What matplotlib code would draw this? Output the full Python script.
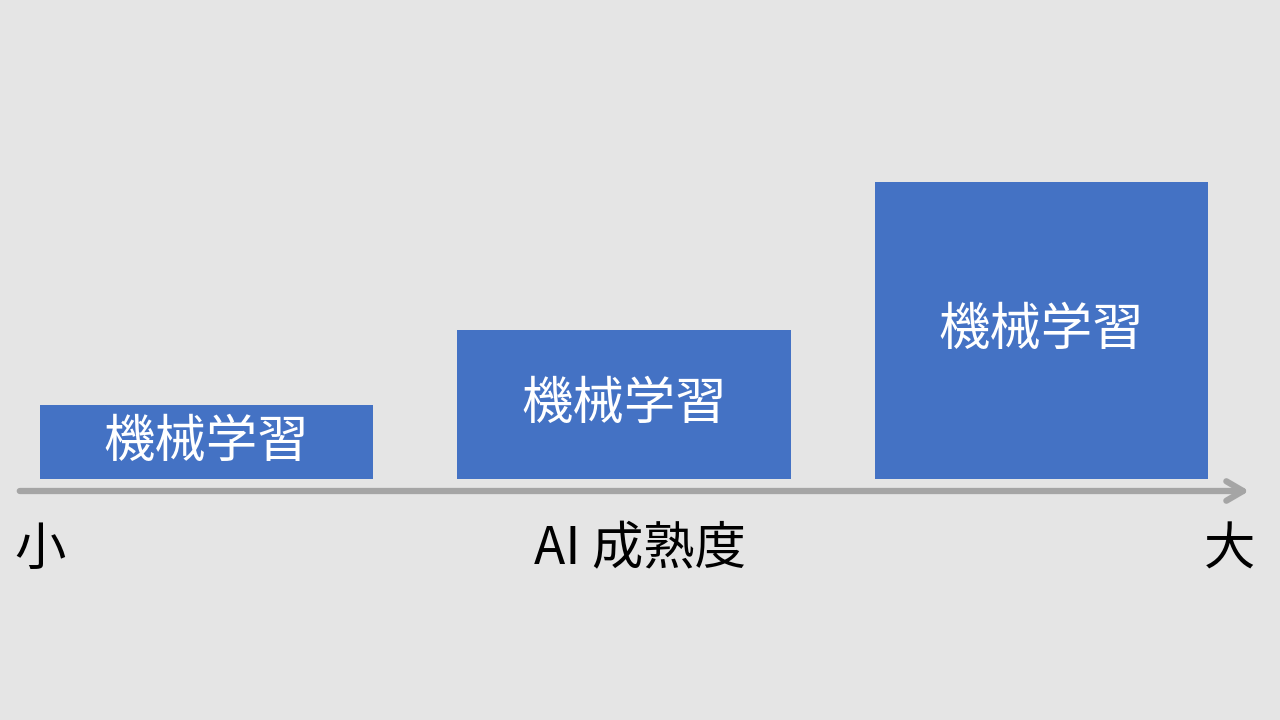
import matplotlib.pyplot as plt
from matplotlib.patches import FancyArrowPatch

plt.rcParams['font.family'] = ['Noto Sans CJK JP', 'DejaVu Sans']

# bars in pixel-like units (baseline at 479)
labels = ['機械学習', '機械学習', '機械学習']
lefts = [40, 457, 875]
widths = [333, 334, 333]
heights = [74, 149, 297]
baseline = 479

fig = plt.figure(figsize=(12.8, 7.2), dpi=100)
fig.patch.set_facecolor('#e5e5e5')
ax = fig.add_axes([0, 0, 1, 1])
ax.set_xlim(0, 1280)
ax.set_ylim(720, 0)
ax.axis('off')

ax.bar(lefts, [-h for h in heights], width=widths, bottom=baseline,
       align='edge', color='#4472c4')
for l, w, h, t in zip(lefts, widths, heights, labels):
    ax.text(l + w / 2, baseline - h / 2, t, color='white', fontsize=37,
            ha='center', va='center')

arrow = FancyArrowPatch((17, 491), (1252, 491), arrowstyle='->,head_length=12,head_width=7',
                        color='#a5a5a5', lw=4.5, mutation_scale=1)
ax.add_patch(arrow)

ax.text(40, 550, '小', fontsize=37, ha='center', va='center', color='black')
ax.text(1230, 550, '大', fontsize=37, ha='center', va='center', color='black')
ax.text(640, 550, 'AI 成熟度', fontsize=37, ha='center', va='center', color='black')

fig.savefig('out.png', dpi=100, facecolor=fig.get_facecolor())
